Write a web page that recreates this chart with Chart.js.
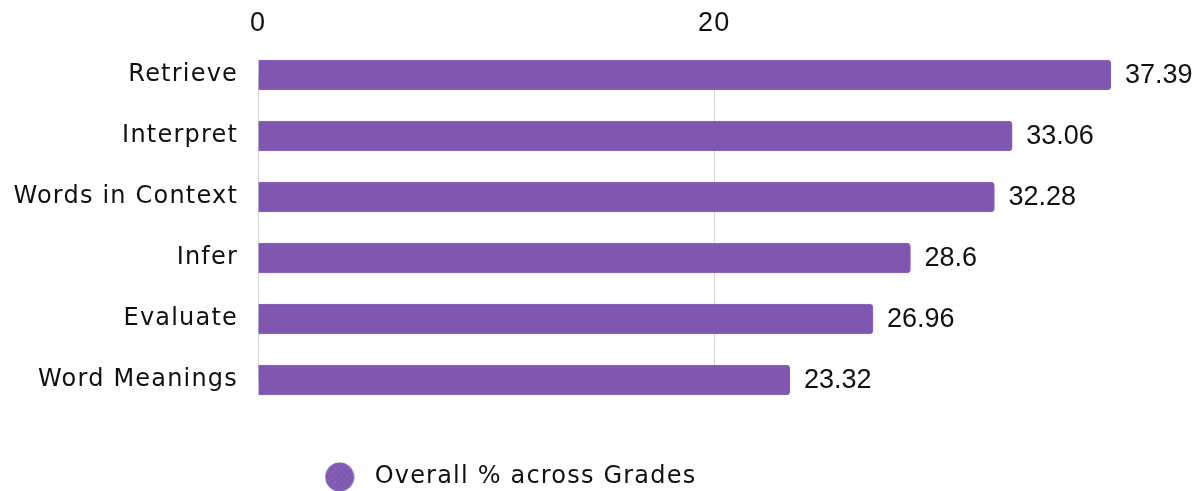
<!DOCTYPE html>
<html>
<head>
<meta charset="utf-8">
<title>Overall % across Grades</title>
<script src="https://cdn.jsdelivr.net/npm/chart.js@4"></script>
<style>
  body { margin: 0; background: #fff; }
</style>
</head>
<body>
<canvas id="grafico" width="1201" height="491"></canvas>
<script>
// datos
const categorias = ['Retrieve', 'Interpret', 'Words in Context', 'Infer', 'Evaluate', 'Word Meanings'];
const valores = [37.39, 33.06, 32.28, 28.6, 26.96, 23.32];
const ticksX = [0, 20];
const serie = 'Overall % across Grades';

const morado = '#7f57b1';
const fuenteTexto = '"DejaVu Sans", sans-serif';
const fuenteNum = '"Liberation Sans", Arial, sans-serif';

// punto de la leyenda con un poco de textura
function puntoLeyenda() {
  const c = document.createElement('canvas');
  c.width = 30; c.height = 30;
  const ctx = c.getContext('2d');
  ctx.beginPath();
  ctx.arc(15, 15, 14.5, 0, Math.PI * 2);
  ctx.fillStyle = morado;
  ctx.fill();
  ctx.save();
  ctx.clip();
  for (let y = 0; y < 30; y += 3) {
    for (let x = (y / 3) % 2 ? 0 : 3; x < 30; x += 6) {
      ctx.fillStyle = 'rgba(255,255,255,0.06)';
      ctx.fillRect(x, y, 3, 3);
    }
  }
  ctx.restore();
  return c;
}

// letra un poco mas abierta, como la fuente original
const espaciado = {
  id: 'espaciado',
  beforeLayout(chart) { chart.ctx.letterSpacing = '1.2px'; },
  beforeDraw(chart) { chart.ctx.letterSpacing = '1.2px'; }
};

// etiquetas con el valor al final de cada barra
const etiquetasValor = {
  id: 'etiquetasValor',
  afterDatasetsDraw(chart) {
    const ctx = chart.ctx;
    const meta = chart.getDatasetMeta(0);
    ctx.save();
    ctx.letterSpacing = '0px';
    ctx.font = '27px ' + fuenteNum;
    ctx.fillStyle = '#111';
    ctx.textBaseline = 'middle';
    ctx.textAlign = 'left';
    meta.data.forEach((bar, i) => {
      ctx.fillText(String(valores[i]), bar.x + 14, bar.y + 1);
    });
    ctx.restore();
  }
};

// mueve la leyenda donde va
const moverLeyenda = {
  id: 'moverLeyenda',
  afterLayout(chart) {
    const l = chart.legend;
    const dx = -53, dy = 8;
    l.left += dx; l.right += dx;
    l.top += dy; l.bottom += dy;
  }
};

new Chart(document.getElementById('grafico'), {
  type: 'bar',
  data: {
    labels: categorias,
    datasets: [{
      label: serie,
      data: valores,
      backgroundColor: morado,
      borderColor: '#8c66bd',
      borderWidth: 1,
      borderRadius: 4,
      barThickness: 30,
      clip: false,
      pointStyle: puntoLeyenda()
    }]
  },
  options: {
    indexAxis: 'y',
    responsive: false,
    animation: false,
    layout: { padding: { left: 8, right: 90, top: 8, bottom: 0 } },
    scales: {
      x: {
        position: 'top',
        min: 0,
        max: Math.max(...valores),
        afterBuildTicks(scale) {
          scale.ticks = ticksX.map(v => ({ value: v }));
        },
        afterFit(scale) { scale.height = 67; },
        grid: { color: '#d4d4d4', drawTicks: false },
        border: { display: false },
        ticks: {
          padding: 35,
          color: '#111',
          font: { family: fuenteNum, size: 27 }
        }
      },
      y: {
        offset: false,
        grid: { display: false },
        border: { display: true, color: '#d4d4d4' },
        afterFit(scale) {
          scale.width = 250;
          scale.paddingTop = 0;
          scale.paddingBottom = 0;
        },
        ticks: {
          padding: 12,
          color: '#111',
          font: { family: fuenteTexto, size: 24 }
        }
      }
    },
    plugins: {
      legend: {
        position: 'bottom',
        labels: {
          usePointStyle: true,
          pointStyleWidth: 46,
          padding: 77,
          color: '#111',
          font: { family: fuenteTexto, size: 24 }
        }
      },
      tooltip: { enabled: false }
    }
  },
  plugins: [espaciado, etiquetasValor, moverLeyenda]
});
</script>
</body>
</html>
